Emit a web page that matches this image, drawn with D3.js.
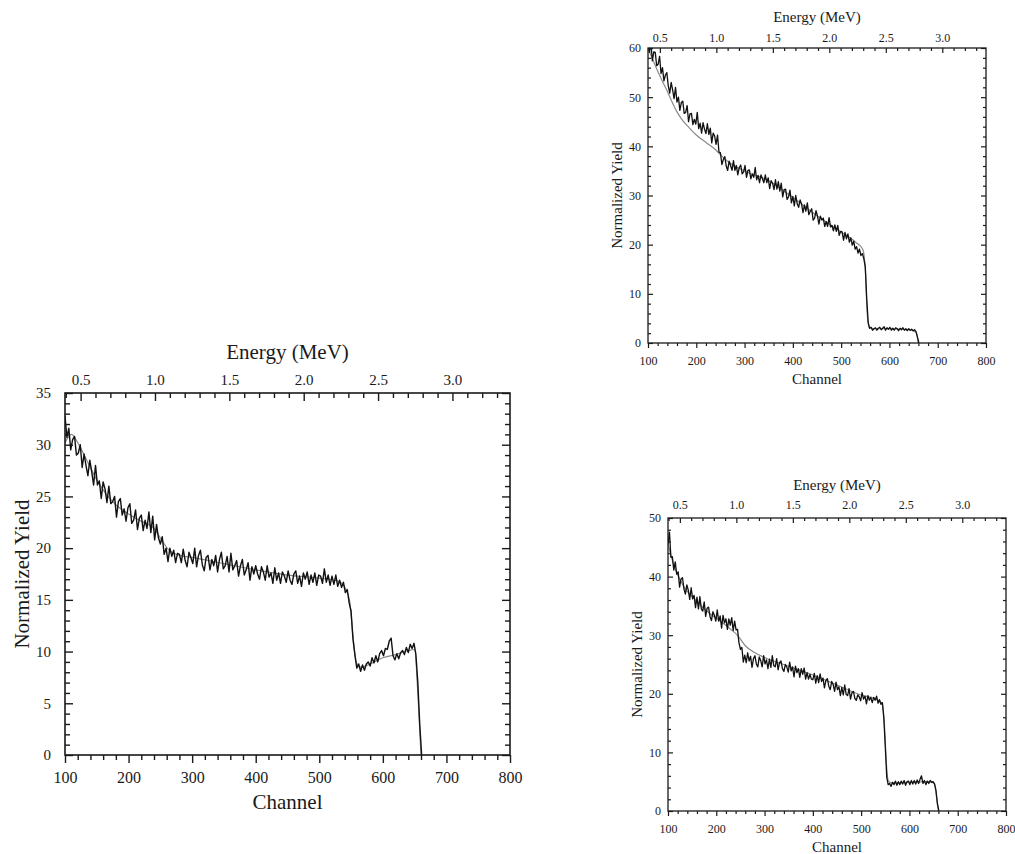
<!DOCTYPE html>
<html>
<head>
<meta charset="utf-8">
<script src="https://cdnjs.cloudflare.com/ajax/libs/d3/7.8.5/d3.min.js"></script>
<style>
    body { margin: 0; background: #fff; }
    svg text { font-family: "Liberation Serif", "Times New Roman", serif; fill: #1a1a1a; }
</style>
</head>
<body>
<div id="chart"></div>
<script>
// spectra are sampled every 3 channels starting at channel 100 (last point = channel 661)
var channelStart = 100;
var channelStep = 3;

// big panel (left)
var yieldLeft = [
    32.8, 30.7, 31.6, 29.5, 30.5, 30.8, 29.0, 29.2, 30.0, 27.8,
    29.1, 28.0, 27.0, 28.5, 27.4, 26.1, 28.0, 26.1, 26.5, 24.8,
    26.4, 25.7, 24.4, 26.0, 24.3, 24.5, 25.0, 23.0, 24.5, 24.8,
    23.2, 23.8, 22.6, 23.9, 24.3, 22.4, 22.7, 23.7, 21.8, 22.9,
    23.2, 21.7, 22.7, 21.9, 23.5, 21.5, 23.1, 20.8, 22.3, 21.0,
    20.4, 21.1, 19.4, 20.0, 18.7, 20.0, 19.2, 19.8, 18.6, 19.5,
    19.4, 18.6, 19.9, 18.8, 18.2, 19.6, 19.1, 18.5, 20.0, 18.2,
    19.3, 19.8, 18.4, 17.8, 19.1, 19.3, 17.9, 18.9, 18.3, 19.3,
    17.7, 18.9, 19.6, 18.0, 18.3, 19.2, 17.7, 19.5, 17.9, 18.3,
    18.8, 17.3, 18.3, 18.9, 17.4, 17.9, 18.6, 16.9, 18.2, 17.5,
    18.3, 17.5, 17.0, 18.2, 17.7, 16.9, 18.3, 17.2, 17.6, 16.6,
    18.1, 16.9, 17.6, 16.6, 17.7, 17.3, 16.7, 17.8, 16.9, 16.5,
    17.5, 17.8, 16.6, 17.3, 16.3, 17.6, 17.0, 17.7, 16.5, 17.4,
    16.7, 17.6, 16.4, 17.4, 17.3, 16.6, 18.0, 16.7, 17.4, 16.4,
    17.3, 16.5, 17.4, 16.3, 16.9, 16.2, 16.7, 15.7, 16.0, 14.7,
    13.9, 11.2, 9.7, 8.4, 8.8, 8.1, 8.7, 8.2, 8.8, 9.0,
    8.6, 9.4, 8.9, 9.6, 9.0, 9.8, 10.1, 9.6, 10.3, 10.2,
    11.0, 11.3, 9.6, 9.2, 9.8, 9.3, 9.9, 10.1, 9.7, 10.4,
    9.9, 10.7, 10.3, 10.8, 9.7, 7.0, 3.0, 0.0
];
var fitChLeft = [100, 110, 120, 135, 150, 165, 180, 200, 220, 240, 252, 262, 280, 300, 350, 400, 450, 500, 530, 542, 548, 553, 558, 565, 580, 600, 620, 640, 650, 655, 660];
var fitLeft = [30.2, 31.0, 30.2, 28.4, 26.6, 25.2, 24.2, 23.3, 22.6, 21.9, 20.8, 19.9, 19.3, 19.1, 18.5, 17.9, 17.4, 17.1, 16.8, 16.0, 14.8, 11.5, 9.0, 8.5, 8.8, 9.4, 9.7, 10.1, 10.2, 6.0, 0.0];

// top right panel
var yieldTop = [
    61.7, 59.1, 61.1, 57.4, 59.2, 59.1, 56.4, 56.7, 58.3, 54.8,
    56.0, 53.3, 54.5, 55.0, 52.3, 50.8, 53.0, 51.5, 49.7, 52.0,
    49.0, 50.0, 47.3, 48.9, 49.2, 46.7, 46.9, 48.3, 45.0, 46.6,
    46.7, 44.4, 45.5, 44.5, 46.9, 43.6, 44.7, 42.7, 44.8, 43.5,
    42.6, 44.6, 42.4, 43.7, 40.7, 42.7, 42.1, 40.4, 42.3, 38.8,
    38.7, 36.3, 37.3, 37.9, 36.0, 35.1, 37.0, 36.1, 35.1, 37.1,
    35.1, 36.1, 34.2, 35.7, 36.2, 34.4, 34.8, 36.1, 33.7, 35.1,
    35.2, 33.4, 34.4, 33.7, 35.7, 33.2, 34.1, 32.6, 34.2, 33.4,
    32.6, 34.2, 32.6, 33.6, 31.4, 33.0, 32.5, 31.2, 33.2, 31.3,
    32.8, 30.9, 32.5, 29.7, 31.2, 31.3, 29.2, 29.7, 31.1, 28.5,
    29.8, 27.9, 30.0, 28.3, 27.6, 29.1, 28.3, 26.5, 28.1, 26.8,
    28.5, 26.1, 26.8, 27.3, 25.0, 25.4, 26.9, 25.8, 24.2, 25.8,
    25.0, 25.4, 23.7, 24.7, 23.7, 25.5, 23.6, 23.9, 22.8, 24.0,
    22.7, 23.9, 21.9, 22.7, 22.6, 20.9, 22.5, 21.2, 22.2, 20.5,
    21.4, 19.9, 20.7, 19.1, 19.6, 18.3, 19.1, 17.8, 18.2, 17.1,
    15.5, 9.0, 4.2, 3.0, 3.2, 2.6, 2.9, 3.1, 2.6, 3.0,
    3.2, 2.7, 3.0, 3.3, 2.6, 3.1, 2.8, 3.2, 2.6, 3.0,
    2.6, 3.1, 2.9, 2.5, 3.0, 2.7, 3.1, 2.6, 2.9, 2.5,
    2.9, 2.6, 2.8, 2.5, 2.7, 2.3, 1.2, 0.0
];
var fitChTop = [100, 110, 120, 130, 140, 150, 160, 170, 185, 200, 220, 240, 255, 270, 300, 350, 400, 450, 500, 530, 545, 550, 554, 558, 570, 600, 640, 655, 660];
var fitTop = [60.0, 57.6, 55.3, 53.2, 51.2, 49.0, 47.0, 45.5, 43.8, 42.3, 40.8, 39.3, 37.8, 36.6, 35.0, 33.0, 29.6, 25.9, 22.6, 20.5, 19.0, 15.0, 6.0, 3.2, 2.9, 2.9, 2.7, 2.2, 0.0];

// bottom right panel
var yieldBottom = [
    45.5, 47.6, 43.3, 43.4, 41.1, 42.5, 40.4, 40.8, 38.2, 39.6,
    39.8, 37.9, 37.0, 38.6, 37.7, 36.1, 38.1, 36.2, 36.8, 34.7,
    36.5, 34.5, 36.6, 34.5, 34.1, 35.7, 33.2, 34.6, 34.8, 33.2,
    32.5, 34.0, 33.4, 32.4, 34.3, 32.4, 33.3, 31.2, 33.4, 32.1,
    32.8, 31.0, 32.8, 31.7, 33.0, 30.8, 32.4, 30.9, 31.0, 28.7,
    27.6, 27.9, 25.4, 26.6, 25.3, 27.0, 25.6, 26.4, 24.5, 26.0,
    26.5, 25.1, 24.6, 26.3, 25.7, 24.6, 26.5, 25.1, 25.8, 24.3,
    25.9, 24.5, 26.5, 24.8, 24.6, 26.0, 24.1, 25.3, 25.6, 24.3,
    23.8, 25.0, 24.6, 23.7, 25.4, 23.9, 24.6, 22.9, 24.7, 23.6,
    24.3, 22.8, 24.3, 23.3, 24.4, 22.5, 23.6, 22.5, 23.3, 22.5,
    22.4, 23.5, 21.8, 23.1, 21.9, 23.4, 22.1, 22.7, 21.0, 22.3,
    22.6, 21.3, 20.7, 22.1, 21.6, 20.4, 22.0, 20.7, 21.2, 19.7,
    21.1, 19.8, 21.5, 19.9, 19.7, 20.9, 19.1, 20.2, 20.4, 19.2,
    18.9, 19.8, 19.5, 18.8, 20.2, 19.1, 19.6, 18.3, 19.7, 18.9,
    19.4, 18.5, 19.4, 18.9, 19.6, 18.4, 19.0, 18.2, 18.5, 15.8,
    11.0, 5.8, 4.5, 4.7, 4.2, 4.9, 4.5, 5.1, 4.4, 5.0,
    4.5, 5.1, 4.6, 5.2, 4.4, 5.0, 5.1, 4.5, 5.2, 4.6,
    5.2, 4.6, 5.3, 4.7, 5.4, 6.0, 4.7, 5.2, 4.5, 5.1,
    4.7, 5.2, 4.9, 5.0, 4.6, 3.5, 1.2, 0.0
];
var fitChBottom = [100, 110, 120, 135, 150, 170, 190, 210, 230, 245, 260, 280, 300, 350, 400, 450, 500, 530, 543, 548, 552, 556, 562, 600, 640, 652, 656, 660];
var fitBottom = [45.5, 42.5, 40.3, 38.0, 36.6, 34.9, 33.5, 32.3, 31.0, 29.9, 28.2, 27.0, 26.2, 24.7, 23.2, 21.5, 19.8, 19.1, 18.4, 15.0, 8.5, 5.2, 4.8, 4.9, 5.0, 4.7, 2.5, 0.0];

// axis values
var channelDomain = [100, 800];
var channelTicks = [100, 200, 300, 400, 500, 600, 700, 800];
var energyDomain = [0.395, 3.387]; // energy at channel 100 and channel 800
var energyTicks = [0.5, 1.0, 1.5, 2.0, 2.5, 3.0];

var svg = d3.select("#chart")
    .append("svg")
    .attr("width", 1015)
    .attr("height", 854);

function styleAxis(sel, width) {
    sel.select(".domain").remove();
    sel.selectAll("line").attr("stroke", "#1a1a1a").attr("stroke-width", width);
    sel.attr("font-family", null).attr("font-size", null);
}

function drawPanel(p, yields, fitCh, fitY) {
    var g = svg.append("g");

    var x = d3.scaleLinear().domain(channelDomain).range([p.left, p.right]);
    var y = d3.scaleLinear().domain([0, p.yMax]).range([p.bottom, p.top]);
    var e = d3.scaleLinear().domain(energyDomain).range([p.left, p.right]);

    var yMajor = d3.range(0, p.yMax + 0.01, p.yStep);
    var yMinor = d3.range(0, p.yMax + 0.01, p.yMinorStep).filter(d => d % p.yStep != 0);
    var chMinor = d3.range(100, 801, 20).filter(d => d % 100 != 0);
    var eMinor = d3.range(4, 34).map(d => d / 10).filter(d => Math.round(d * 10) % 5 != 0);

    // bottom channel axis, ticks pointing out
    g.append("g")
        .attr("transform", `translate(0, ${p.bottom})`)
        .call(d3.axisBottom(x).tickValues(chMinor).tickSize(p.minorLen).tickFormat(""))
        .call(s => styleAxis(s, p.tickWidth));
    g.append("g")
        .attr("transform", `translate(0, ${p.bottom})`)
        .call(d3.axisBottom(x).tickValues(channelTicks).tickSize(p.majorLen).tickPadding(p.xPad))
        .call(s => styleAxis(s, p.tickWidth))
        .selectAll("text").style("font-size", p.xTickFont + "px");

    // top energy axis, ticks pointing in
    g.append("g")
        .attr("transform", `translate(0, ${p.top})`)
        .call(d3.axisTop(e).tickValues(eMinor).tickSize(-p.minorLen).tickFormat(""))
        .call(s => styleAxis(s, p.tickWidth));
    g.append("g")
        .attr("transform", `translate(0, ${p.top})`)
        .call(d3.axisTop(e).tickValues(energyTicks).tickSize(-p.majorLen).tickPadding(p.ePad).tickFormat(d3.format(".1f")))
        .call(s => styleAxis(s, p.tickWidth))
        .selectAll("text").style("font-size", p.tickFont + "px");

    // left and right yield axes, ticks pointing in
    g.append("g")
        .attr("transform", `translate(${p.left}, 0)`)
        .call(d3.axisLeft(y).tickValues(yMinor).tickSize(-p.minorLen).tickFormat(""))
        .call(s => styleAxis(s, p.tickWidth));
    g.append("g")
        .attr("transform", `translate(${p.left}, 0)`)
        .call(d3.axisLeft(y).tickValues(yMajor).tickSize(-p.majorLen).tickPadding(p.yPad))
        .call(s => styleAxis(s, p.tickWidth))
        .selectAll("text").style("font-size", p.tickFont + "px");
    g.append("g")
        .attr("transform", `translate(${p.right}, 0)`)
        .call(d3.axisRight(y).tickValues(yMinor).tickSize(-p.minorLen).tickFormat(""))
        .call(s => styleAxis(s, p.tickWidth));
    g.append("g")
        .attr("transform", `translate(${p.right}, 0)`)
        .call(d3.axisRight(y).tickValues(yMajor).tickSize(-p.majorLen).tickFormat(""))
        .call(s => styleAxis(s, p.tickWidth));

    // clip the curves to the frame
    g.append("clipPath").attr("id", p.id + "-clip")
        .append("rect")
        .attr("x", p.left).attr("y", p.top)
        .attr("width", p.right - p.left).attr("height", p.bottom - p.top);

    var fitLine = d3.line()
        .x((d, i) => x(fitCh[i]))
        .y(d => y(d))
        .curve(d3.curveMonotoneX);
    g.append("path")
        .datum(fitY)
        .attr("clip-path", `url(#${p.id}-clip)`)
        .attr("d", fitLine)
        .attr("fill", "none")
        .attr("stroke", "#8a8a8a")
        .attr("stroke-width", 1.2);

    var dataLine = d3.line()
        .x((d, i) => x(channelStart + i * channelStep))
        .y(d => y(d));
    g.append("path")
        .datum(yields)
        .attr("clip-path", `url(#${p.id}-clip)`)
        .attr("d", dataLine)
        .attr("fill", "none")
        .attr("stroke", "#111")
        .attr("stroke-width", p.dataWidth)
        .attr("stroke-linejoin", "round");

    // frame
    g.append("rect")
        .attr("x", p.left).attr("y", p.top)
        .attr("width", p.right - p.left).attr("height", p.bottom - p.top)
        .attr("fill", "none")
        .attr("stroke", "#1a1a1a")
        .attr("stroke-width", p.frameWidth);

    // axis titles
    var cx = (p.left + p.right) / 2;
    g.append("text")
        .attr("x", cx).attr("y", p.energyTitleY)
        .attr("text-anchor", "middle")
        .style("font-size", p.titleFont + "px")
        .text("Energy (MeV)");
    g.append("text")
        .attr("x", cx).attr("y", p.channelTitleY)
        .attr("text-anchor", "middle")
        .style("font-size", p.titleFont + "px")
        .text("Channel");
    g.append("text")
        .attr("transform", `translate(${p.yTitleX}, ${(p.top + p.bottom) / 2}) rotate(-90)`)
        .attr("text-anchor", "middle")
        .style("font-size", p.titleFont + "px")
        .text("Normalized Yield");
}

drawPanel({
    id: "left", left: 65, right: 510, top: 393, bottom: 755,
    yMax: 35, yStep: 5, yMinorStep: 1,
    majorLen: 8, minorLen: 5, tickWidth: 1.4, frameWidth: 1.6, dataWidth: 1.4,
    tickFont: 15, xTickFont: 16, titleFont: 21,
    xPad: 9, ePad: 8, yPad: 14,
    energyTitleY: 359, channelTitleY: 809, yTitleX: 29
}, yieldLeft, fitChLeft, fitLeft);

drawPanel({
    id: "top", left: 648, right: 986, top: 48, bottom: 343,
    yMax: 60, yStep: 10, yMinorStep: 2,
    majorLen: 5, minorLen: 3, tickWidth: 1.2, frameWidth: 1.3, dataWidth: 1.3,
    tickFont: 12, xTickFont: 12, titleFont: 15,
    xPad: 8, ePad: 6, yPad: 7,
    energyTitleY: 22, channelTitleY: 384, yTitleX: 622
}, yieldTop, fitChTop, fitTop);

drawPanel({
    id: "bottom", left: 668, right: 1006, top: 518, bottom: 811,
    yMax: 50, yStep: 10, yMinorStep: 2,
    majorLen: 5, minorLen: 3, tickWidth: 1.2, frameWidth: 1.3, dataWidth: 1.3,
    tickFont: 12, xTickFont: 12, titleFont: 15,
    xPad: 8, ePad: 9, yPad: 7,
    energyTitleY: 490, channelTitleY: 852, yTitleX: 642
}, yieldBottom, fitChBottom, fitBottom);
</script>
</body>
</html>
